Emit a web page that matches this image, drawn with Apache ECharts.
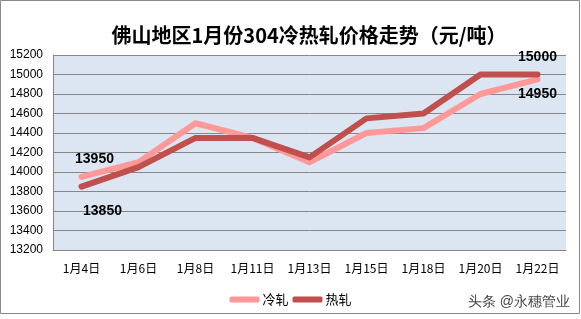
<!DOCTYPE html>
<html>
<head>
<meta charset="utf-8">
<script src="https://cdn.jsdelivr.net/npm/echarts@6/dist/echarts.min.js"></script>
<style>html,body{margin:0;padding:0;background:#fff;}#c{width:581px;height:319px;}</style>
</head>
<body>
<div id="c"></div>
<script>
var titleText = '佛山地区1月份304冷热轧价格走势（元/吨）';
var categories = ['1月4日', '1月6日', '1月8日', '1月11日', '1月13日', '1月15日', '1月18日', '1月20日', '1月22日'];
var seriesNames = ['冷轧', '热轧'];
var coldRolled = [13950, 14100, 14500, 14350, 14100, 14400, 14450, 14800, 14950];
var hotRolled = [13850, 14050, 14350, 14350, 14150, 14550, 14600, 15000, 15000];
var yMin = 13200, yMax = 15200, yStep = 200;
var watermark = '头条 @永穗管业';

var labelFont = { fontSize: 14, fontWeight: 'bold', color: '#000', fontFamily: 'Liberation Sans, Arial, sans-serif' };

function withEndLabels(arr, first, last) {
  return arr.map(function (v, i) {
    if (i === 0) return { value: v, label: Object.assign({ show: true, formatter: '{c}' }, labelFont, first) };
    if (i === arr.length - 1) return { value: v, label: Object.assign({ show: true, formatter: '{c}' }, labelFont, last) };
    return v;
  });
}

var chart = echarts.init(document.getElementById('c'), null, { renderer: 'canvas' });
chart.setOption({
  backgroundColor: '#fff',
  animation: false,
  title: {
    text: titleText,
    left: 304, top: 20, textAlign: 'center',
    textStyle: { fontSize: 20, fontWeight: 'bold', color: '#000', fontFamily: '"Noto Sans CJK SC", sans-serif' }
  },
  legend: {
    data: seriesNames,
    left: 'center', top: 288,
    itemWidth: 30, itemHeight: 6, itemGap: 4,
    icon: 'roundRect',
    textStyle: { fontSize: 13, color: '#000', fontFamily: '"Noto Sans CJK SC", sans-serif', padding: [0, 0, 0, -2] }
  },
  grid: {
    left: 53, right: 15, top: 55, bottom: 69,
    show: true, backgroundColor: '#dce6f2', borderWidth: 0
  },
  xAxis: {
    type: 'category', data: categories, boundaryGap: true,
    axisLine: { show: true, lineStyle: { color: '#868686', width: 1 } },
    axisTick: { show: false },
    axisLabel: { color: '#000', fontSize: 12, margin: 12, fontFamily: '"Noto Sans CJK SC", sans-serif', interval: 0 },
    splitLine: { show: false }
  },
  yAxis: {
    type: 'value', min: yMin, max: yMax, interval: yStep,
    axisLine: { show: true, lineStyle: { color: '#868686', width: 1 } },
    axisTick: { show: false },
    axisLabel: { color: '#000', fontSize: 12, margin: 10, fontFamily: 'Liberation Sans, Arial, sans-serif',
      formatter: function (v) { return String(v); } },
    splitLine: { show: true, lineStyle: { color: '#868686', width: 1 } }
  },
  series: [
    {
      name: seriesNames[0], type: 'line', symbol: 'circle', symbolSize: 0.1, showSymbol: true, smooth: false,
      color: '#ff9999',
      itemStyle: { color: '#ff9999' },
      lineStyle: { width: 6, color: '#ff9999', cap: 'round', join: 'round' },
      data: withEndLabels(coldRolled,
        { position: 'top', distance: 11, offset: [13, 0] },
        { position: 'bottom', distance: 8, offset: [0, 0] })
    },
    {
      name: seriesNames[1], type: 'line', symbol: 'circle', symbolSize: 0.1, showSymbol: true, smooth: false,
      color: '#c0504d',
      itemStyle: { color: '#c0504d' },
      lineStyle: { width: 6, color: '#c0504d', cap: 'round', join: 'round' },
      data: withEndLabels(hotRolled,
        { position: 'bottom', distance: 17, offset: [21, 0] },
        { position: 'top', distance: 10, offset: [0, 0] })
    }
  ],
  graphic: [
    {
      type: 'rect', silent: true,
      shape: { x: 0.5, y: 0.5, width: 579, height: 313 },
      style: { fill: 'none', stroke: '#888', lineWidth: 1 }
    },
    {
      type: 'text', silent: true,
      style: { x: 570, y: 302, text: watermark, textAlign: 'right', textVerticalAlign: 'middle',
        fontSize: 14, fill: '#444', font: '14px "Noto Sans CJK SC", sans-serif' }
    }
  ]
});
</script>
</body>
</html>
